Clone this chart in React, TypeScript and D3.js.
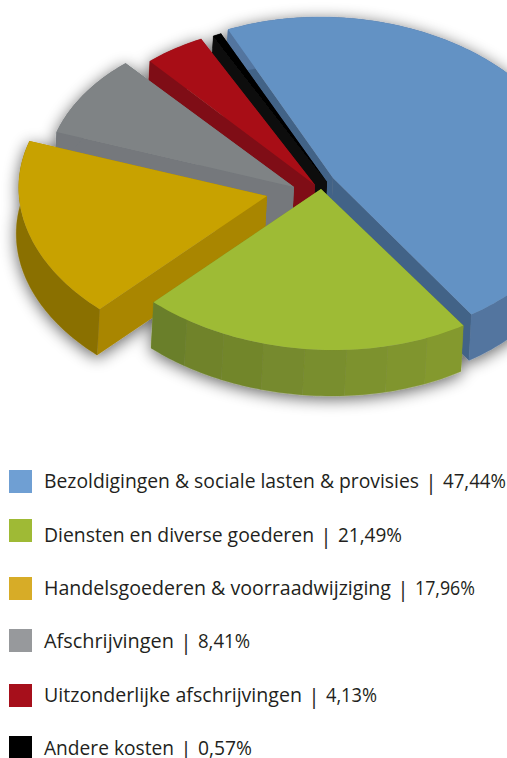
import React from "react";
import * as d3 from "d3";

const categories = [
  "Bezoldigingen & sociale lasten & provisies",
  "Diensten en diverse goederen",
  "Handelsgoederen & voorraadwijziging",
  "Afschrijvingen",
  "Uitzonderlijke afschrijvingen",
  "Andere kosten",
];
const values = [47.44, 21.49, 17.96, 8.41, 4.13, 0.57];
const valueLabels = ["47,44%", "21,49%", "17,96%", "8,41%", "4,13%", "0,57%"];
const legendColors = ["#6f9fd3", "#9fba35", "#d7ac27", "#97999c", "#a60f1b", "#000000"];
const topColors = ["#6492c4", "#9ebb35", "#c8a200", "#7f8385", "#a81019", "#000000"];
const edgeColors = ["#436387", "#7c9129", "#a98600", "#74787c", "#7f0f14", "#0a0a0a"];
const rimStart = ["#52759f", "#6b7f2b", "#8a7006", "#74787c", "#7f0f14", "#0a0a0a"];
const rimEnd = ["#52759f", "#84992f", "#8a7006", "#74787c", "#7f0f14", "#0a0a0a"];
const rimStrips = [1, 8, 1, 1, 1, 1];
const apexX = [333, 321, 267, 294, 315, 327];
const apexY = [178, 189, 196, 187, 185, 182];
const radiusScale = [0.97, 1, 1, 1, 0.98, 0.98];
const legendSquareY = [470, 519, 577, 629, 684, 736];
const legendBaseline = [488, 542, 595, 648, 702, 755];
const labelWidths = [375, 270, 347, 130, 258, 130];
const valueWidths = [63, 64, 60, 52, 51, 54];

const RX = 248;
const RY = 161;
const SKEW = -12.8;
const DEPTH = 46;
const DEPTH_X = -2.5;
const FONT_SIZE = 19.35;
const TEXT_X = 44;

const sx = d3.scaleLinear().domain([-1, 1]).range([-RX, RX]);
const sy = d3.scaleLinear().domain([-1, 1]).range([-RY, RY]);
const skew = d3.scaleLinear().domain([-1, 1]).range([-SKEW, SKEW]);

const pieGen = d3
  .pie<number>()
  .sort(null)
  .startAngle((-22.8 * Math.PI) / 180)
  .endAngle((337.2 * Math.PI) / 180);
const slices = pieGen(values);

const line = d3.line();
type P = [number, number];
const rimPoint = (i: number, a: number, drop = 0): P => [
  apexX[i] + radiusScale[i] * sx(Math.sin(a)) + skew(Math.cos(a)) + (drop ? DEPTH_X : 0),
  apexY[i] - sy(Math.cos(a)) + drop,
];
const arcPoints = (i: number, a0: number, a1: number, drop = 0): P[] => {
  const n = Math.max(2, Math.ceil(Math.abs(a1 - a0) / 0.02));
  return d3.range(n + 1).map((k) => rimPoint(i, a0 + ((a1 - a0) * k) / n, drop));
};
const apex = (i: number, drop = 0): P => [apexX[i] + (drop ? DEPTH_X : 0), apexY[i] + drop];

const topPath = (i: number) => {
  const s = slices[i];
  return line([apex(i), ...arcPoints(i, s.startAngle, s.endAngle)]) + "Z";
};
const radialPath = (i: number, a: number) =>
  line([apex(i), rimPoint(i, a), rimPoint(i, a, DEPTH), apex(i, DEPTH)]) + "Z";
const rimPath = (i: number, a0: number, a1: number) =>
  line([...arcPoints(i, a0, a1), ...arcPoints(i, a1, a0, DEPTH)]) + "Z";

function Slice({ i }: { i: number }) {
  const s = slices[i];
  const strips = rimStrips[i];
  const color = d3.interpolateRgb(rimEnd[i], rimStart[i]);
  const step = (s.endAngle - s.startAngle) / strips;
  return (
    <g>
      <path d={radialPath(i, s.endAngle)} fill={edgeColors[i]} />
      <path d={radialPath(i, s.startAngle)} fill={edgeColors[i]} />
      {d3.range(strips).map((k) => {
        const c = color(strips > 1 ? k / (strips - 1) : 0);
        return (
          <path
            key={k}
            d={rimPath(i, s.startAngle + k * step, s.startAngle + (k + 1) * step)}
            fill={c}
            stroke={c}
            strokeWidth={0.3}
          />
        );
      })}
      <path d={topPath(i)} fill={topColors[i]} />
    </g>
  );
}

export default function App() {
  return (
    <svg
      width={507}
      height={758}
      viewBox="0 0 507 758"
      style={{ position: "absolute", left: 0, top: 0, display: "block", background: "#fff" }}
    >
      <defs>
        <filter id="pieShadow" x="-20%" y="-20%" width="140%" height="140%">
          <feGaussianBlur in="SourceAlpha" stdDeviation="8" />
          <feOffset dx="0" dy="3" />
          <feComponentTransfer>
            <feFuncA type="linear" slope="0.62" />
          </feComponentTransfer>
          <feMerge>
            <feMergeNode />
            <feMergeNode in="SourceGraphic" />
          </feMerge>
        </filter>
      </defs>
      <g filter="url(#pieShadow)">
        {[0, 5, 4, 3, 2, 1].map((i) => (
          <Slice key={i} i={i} />
        ))}
      </g>
      <g fontFamily="'Open Sans', sans-serif" fontSize={FONT_SIZE} fill="#231f20">
        {categories.map((c, i) => {
          const end = TEXT_X + labelWidths[i];
          return (
            <g key={c}>
              <rect x={9} y={legendSquareY[i]} width={23} height={23} fill={legendColors[i]} />
              <text
                x={TEXT_X}
                y={legendBaseline[i]}
                textLength={labelWidths[i]}
                lengthAdjust="spacingAndGlyphs"
              >
                {c}
              </text>
              <text x={end + 12} y={legendBaseline[i] + 2} textAnchor="middle" fontSize={21}>
                |
              </text>
              <text
                x={end + 24}
                y={legendBaseline[i]}
                textLength={valueWidths[i]}
                lengthAdjust="spacingAndGlyphs"
              >
                {valueLabels[i]}
              </text>
            </g>
          );
        })}
      </g>
    </svg>
  );
}
